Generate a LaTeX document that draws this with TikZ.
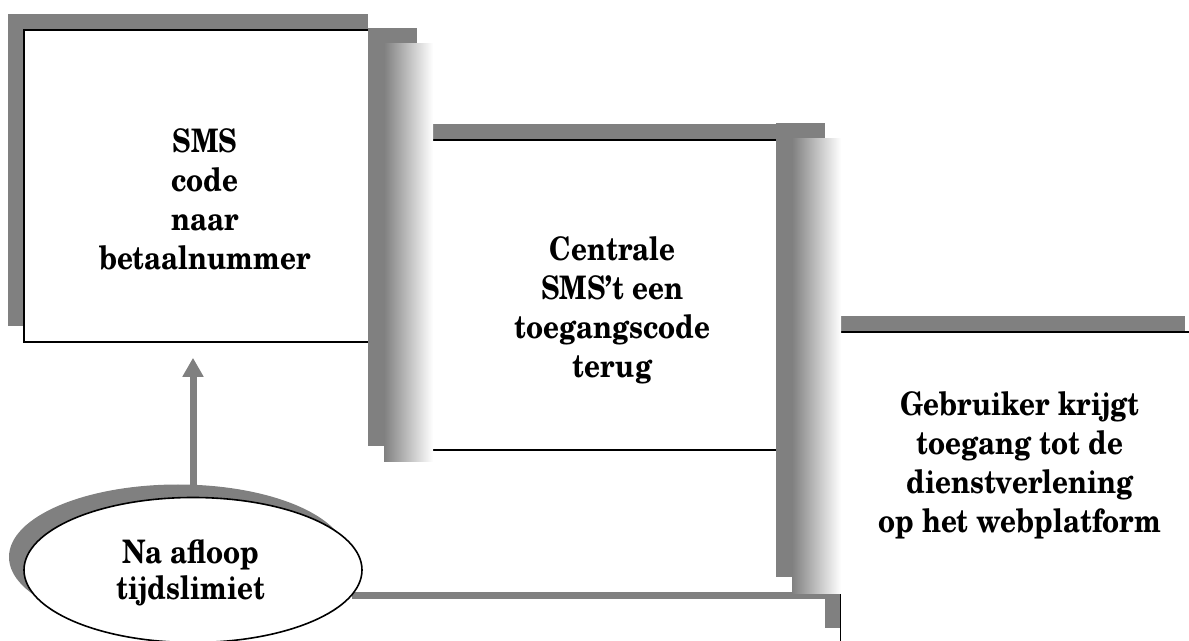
\documentclass[tikz,border=0pt]{standalone}
\usepackage{fontspec}
\setmainfont{texgyreschola}[Extension=.otf, UprightFont=*-regular, BoldFont=*-bold, ItalicFont=*-italic, BoldItalicFont=*-bolditalic]
\newfontfamily\scholanarrow{texgyreschola}[Extension=.otf, UprightFont=*-bold, BoldFont=*-bold, FakeStretch=0.86]
\usetikzlibrary{shapes.geometric,shadows,arrows.meta,backgrounds}
\definecolor{shgray}{RGB}{128,128,128}
\tikzset{
  shd/.style={general shadow={fill=shgray, draw=none, shadow xshift=-8pt, shadow yshift=8pt}},
  stepbox/.style={shd, rectangle, draw=black, line width=0.8pt, fill=white, inner sep=0pt,
    minimum width=180pt, minimum height=156pt},
  bar/.style={shd, rectangle, draw=none, left color=shgray, right color=white, inner sep=0pt,
    minimum width=24.5pt},
  boxtext/.style={font=\scholanarrow\fontsize{16.2}{19.5}\selectfont, align=center, inner sep=0pt, anchor=north},
  ovaltext/.style={font=\scholanarrow\fontsize{16.2}{18.3}\selectfont, align=center, inner sep=0pt, anchor=north},
  oval/.style={ellipse, draw=black, line width=0.8pt, fill=white, inner sep=0pt,
    minimum width=169pt, minimum height=72.5pt,
    general shadow={fill=shgray, draw=none, shadow xshift=-7.5pt, shadow yshift=6.5pt}},
  conn/.style={draw=shgray, line width=3.5pt},
}
\begin{document}
\begin{tikzpicture}[x=0.5pt, y=-0.5pt]
\useasboundingbox (0,0) rectangle (1189,641);
\clip (0,0) rectangle (1189,641);
% boxes
\node[stepbox] (box1) at (204,186) {};
\node[stepbox, minimum height=155pt] (box2) at (612.5,295) {};
\node[stepbox] (box3) at (1020.5,488) {};
% gradient bars
\node[bar, minimum height=209pt] (bar1) at (408.5,253) {};
\node[bar, minimum height=227pt] (bar2) at (816.5,366) {};
% texts
\node[boxtext] (t1) at (205,128) {SMS\\code\\naar\\betaalnummer};
\node[boxtext] (t2) at (612.5,236) {Centrale\\SMS’t een\\toegangscode\\terug};
\node[boxtext] (t3) at (1020,391) {Gebruiker krijgt\\toegang tot de\\dienstverlening\\op het webplatform};
% ellipse
\node[oval] (ov) at (193,570) {};
\node[ovaltext] (t4) at (191,539) {Na afloop\\tijdslimiet};
\begin{pgfonlayer}{background}
\draw[conn, -{Triangle[width=10pt,length=9.5pt]}, shorten >=7.5pt] (ov.north) -- (box1.south -| ov.north);
\draw[conn] (ov.-9.6) -- (ov.-9.6 -| box3.west);
\end{pgfonlayer}
\end{tikzpicture}
\end{document}
